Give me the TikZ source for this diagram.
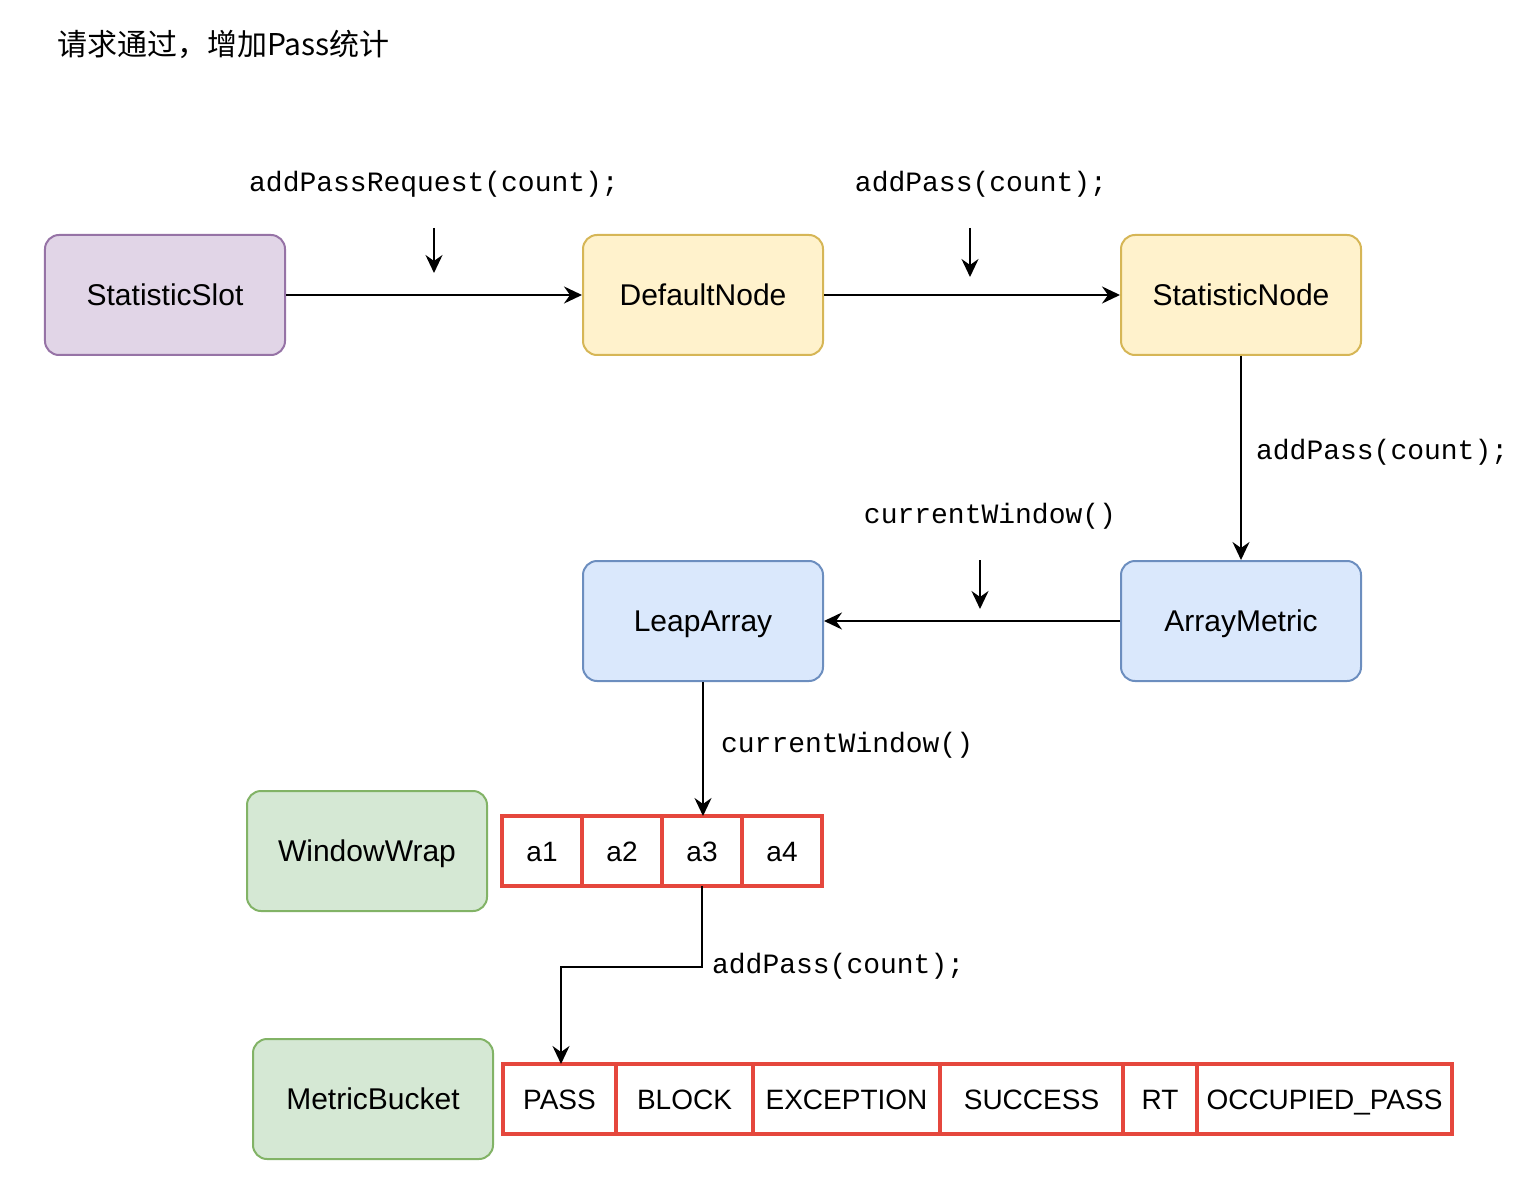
\documentclass[tikz,border=0pt]{standalone}
\usepackage{fontspec}
\setmainfont{Liberation Sans}
\setmonofont{Liberation Mono}
\newfontfamily\cjkfont{Noto Sans CJK SC}
\usepackage{tikz}
\usetikzlibrary{arrows.meta,positioning}
\definecolor{slotfill}{HTML}{E1D5E7}
\definecolor{slotline}{HTML}{9673A6}
\definecolor{nodefill}{HTML}{FFF2CC}
\definecolor{nodeline}{HTML}{D6B656}
\definecolor{metricfill}{HTML}{DAE8FC}
\definecolor{metricline}{HTML}{6C8EBF}
\definecolor{wrapfill}{HTML}{D5E8D4}
\definecolor{wrapline}{HTML}{82B366}
\definecolor{cellline}{HTML}{E5473D}
\tikzset{%
  >={Stealth[length=9pt,width=8.5pt,inset=3pt]},
  % Specifications for style of nodes:
          box/.style = {rectangle, rounded corners=7pt, line width=1pt,
                        minimum width=120pt, minimum height=60pt,
                        text height=10.7pt, text depth=0pt,
                        font=\fontsize{15}{18}\selectfont, text centered},
     slotbox/.style = {box, draw=slotline, fill=slotfill},
     nodebox/.style = {box, draw=nodeline, fill=nodefill},
   metricbox/.style = {box, draw=metricline, fill=metricfill},
     wrapbox/.style = {box, draw=wrapline, fill=wrapfill},
        cell/.style = {rectangle, draw=cellline, line width=1.6pt, fill=white,
                       minimum width=40pt, minimum height=35pt, inner sep=0pt,
                       outer sep=0pt, text height=10pt, text depth=0pt,
                       font=\fontsize{14}{17}\selectfont},
         lbl/.style = {inner sep=0pt, font=\ttfamily\fontsize{14}{17}\selectfont},
        link/.style = {->, line width=1.1pt},
}

\begin{document}
\begin{tikzpicture}[node distance=269pt]
  % Specification of nodes (position, etc.)
  \node (slot) [slotbox] {StatisticSlot};
  \node (dnode) [nodebox, right of=slot] {DefaultNode};
  \node (snode) [nodebox, right of=dnode] {StatisticNode};

  \node (ametric) [metricbox, below of=snode, yshift=106pt] {ArrayMetric};
  \node (leap) [metricbox, left of=ametric] {LeapArray};

  \node (wwrap) [wrapbox, below of=leap, xshift=-168pt, yshift=154pt] {WindowWrap};
  \node (mbucket) [wrapbox, below of=wwrap, xshift=3pt, yshift=145pt] {MetricBucket};

  \useasboundingbox ([xshift=-82.5pt,yshift=147.5pt]slot.center) rectangle ++(759pt,-599pt);

  \node (title) [anchor=west, inner sep=0pt, font=\cjkfont\fontsize{15}{18}\selectfont]
    at ([xshift=-54pt,yshift=125.5pt]slot.center) {请求通过，增加Pass统计};

  % window array
  \node (a1) [cell, right=7pt of wwrap] {a1};
  \node (a2) [cell, right=0pt of a1] {a2};
  \node (a3) [cell, right=0pt of a2] {a3};
  \node (a4) [cell, right=0pt of a3] {a4};

  % bucket counters
  \node (pass) [cell, minimum width=56.5pt, right=4.5pt of mbucket] {PASS};
  \node (block) [cell, minimum width=68.5pt, right=0pt of pass] {BLOCK};
  \node (exception) [cell, minimum width=93.5pt, right=0pt of block] {EXCEPTION};
  \node (success) [cell, minimum width=91.5pt, right=0pt of exception] {SUCCESS};
  \node (rt) [cell, minimum width=37pt, right=0pt of success] {RT};
  \node (occupied) [cell, minimum width=127.5pt, right=0pt of rt] {OCCUPIED\_PASS};

  % Specification of lines between nodes specified above
  % with aditional nodes for description
\draw[link] (slot) -- node[lbl, yshift=55.5pt] (lbl1) {addPassRequest(count);}
  coordinate (m1) (dnode);
\draw[link] (dnode) -- node[lbl, xshift=4.5pt, yshift=55.5pt] (lbl2) {addPass(count);}
  coordinate (m2) (snode);
\draw[link] (snode) -- node[lbl, anchor=west, xshift=7pt, yshift=3pt] (lbl3) {addPass(count);} (ametric);
\draw[link] (ametric) -- node[lbl, xshift=9pt, yshift=52.5pt] (lbl4) {currentWindow()}
  coordinate (m4) (leap);
\draw[link] (leap) -- node[lbl, anchor=west, xshift=8.5pt, yshift=2pt] (lbl5) {currentWindow()}
  (leap |- a3.north);
\draw[link] (a3.south) -- ++(0,-40.5pt) coordinate (elbow)
  node[lbl, anchor=west, xshift=4.5pt, yshift=0.5pt] (lbl6) {addPass(count);}
  -| ([xshift=0.75pt]pass.north);

% short call markers
\coordinate (t1) at ([yshift=33.5pt]m1);
\coordinate (h1) at ([yshift=11pt]m1);
\coordinate (t2) at ([xshift=-1pt,yshift=33.5pt]m2);
\coordinate (h2) at ([xshift=-1pt,yshift=9pt]m2);
\coordinate (t4) at ([xshift=4pt,yshift=30.5pt]m4);
\coordinate (h4) at ([xshift=4pt,yshift=6pt]m4);
\draw[link] (t1) -- (h1);
\draw[link] (t2) -- (h2);
\draw[link] (t4) -- (h4);

\end{tikzpicture}
\end{document}
